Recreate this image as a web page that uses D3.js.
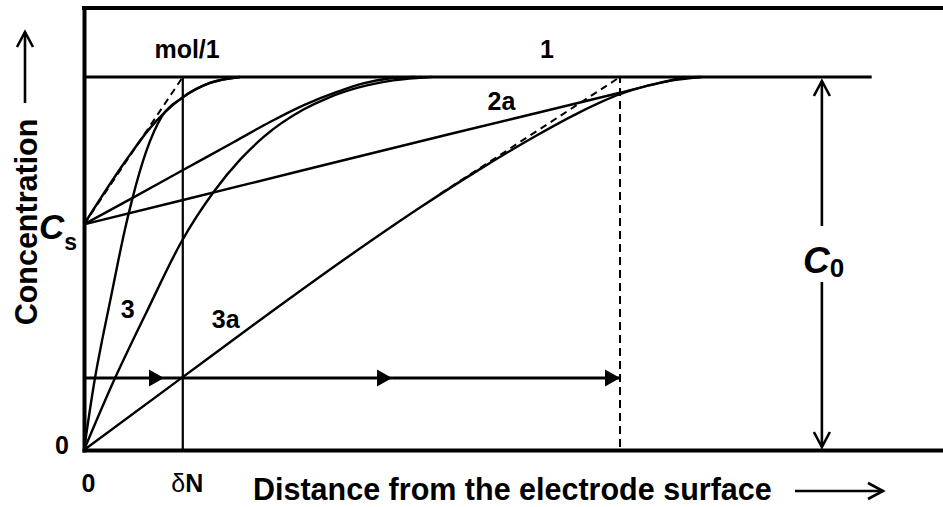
<!DOCTYPE html>
<html>
<head>
<meta charset="utf-8">
<script src="https://cdn.jsdelivr.net/npm/d3@7"></script>
<style>
  html, body { margin: 0; padding: 0; background: #fff; }
  svg { display: block; font-family: "Liberation Sans", Arial, Helvetica, sans-serif; font-weight: bold; }
</style>
</head>
<body>
<svg id="chart" width="943" height="507"></svg>
<script>
// concentration in % of C0, distance in arbitrary units
const C0 = 100;
const CS = 60.5;
const DELTA_N = 11.5;
const DELTA_3A = 62.4;
const FLOW_LEVEL = 19.3;
const flowStops = [0, 9.31, 35.86, 62.4];

// profiles starting at c = 0
const curve3 = [[0, 0], [1.28, 19.3], [2.21, 30.6], [3.14, 41.0], [3.96, 50.4], [4.77, 59.2],
  [5.59, 67.0], [7.22, 79.9], [9.08, 89.5], [11.41, 94.4], [14.67, 98.4], [18.16, 100]];
const curveMid = [[0, 0], [3.26, 17.5], [7.33, 37.2], [11.41, 56.1], [15.13, 69.3], [18.28, 78.1],
  [20.95, 84.0], [25.49, 91.2], [28.5, 94.5], [32.0, 97.2], [36.0, 99.1], [40.5, 100]];
const curve3a = [[0, 0], [11.41, 19.4], [20.95, 35.6], [30.62, 51.6], [39.12, 65.0], [46.1, 75.3],
  [52.74, 84.4], [57.74, 90.6], [62.4, 95.4], [65.5, 97.6], [68.5, 99.1], [72.0, 100]];

// profiles starting at c = Cs
const curve1 = [[0, CS], [5.0, 78.0], [7.68, 86.3], [9.43, 90.6], [11.41, 94.4], [14.67, 98.4], [18.16, 100]];
const curve2 = [[0, CS], [5.82, 67.8], [11.53, 75.07], [17.46, 82.57], [21.65, 87.94], [25.73, 92.6],
  [29.45, 96.0], [32.5, 98.3], [35.5, 99.6], [38.5, 100]];
const curve2a = [[0, CS], [11.53, 67.02], [25.15, 74.8], [42.61, 84.72], [57.74, 93.16], [62.4, 95.79],
  [67.05, 98.42], [69.38, 99.6], [71.71, 100]];

// dashed tangents
const tangents = [
  [[0, CS], [DELTA_N, C0]],
  [[41.44, 68.63], [DELTA_3A, C0]]
];

const notes = [
  { text: "mol/1", d: 12.0, c: 105.1 },
  { text: "1", d: 53.9, c: 105.1 },
  { text: "2a", d: 48.6, c: 91.2 },
  { text: "3", d: 5.1, c: 35.4 },
  { text: "3a", d: 16.5, c: 32.7 }
];

const svg = d3.select("#chart");
const x = d3.scaleLinear().domain([0, 100]).range([84, 943]);
const y = d3.scaleLinear().domain([0, 118.5]).range([450, 8]);

const defs = svg.append("defs");
defs.append("marker")
  .attr("id", "tri")
  .attr("viewBox", "-16 -10 17 20")
  .attr("markerUnits", "userSpaceOnUse")
  .attr("markerWidth", 17).attr("markerHeight", 20)
  .attr("refX", 0).attr("refY", 0)
  .attr("orient", "auto")
  .append("path").attr("d", "M-15,-8.5L0,0L-15,8.5Z").attr("fill", "#000");
defs.append("marker")
  .attr("id", "vee")
  .attr("viewBox", "-20 -11 23 22")
  .attr("markerUnits", "userSpaceOnUse")
  .attr("markerWidth", 23).attr("markerHeight", 22)
  .attr("refX", 0).attr("refY", 0)
  .attr("orient", "auto")
  .append("path").attr("d", "M-15,-8L0,0L-15,8")
  .attr("fill", "none").attr("stroke", "#000").attr("stroke-width", 2.6);

const line = d3.line().x(d => x(d[0])).y(d => y(d[1])).curve(d3.curveMonotoneX);
const straight = d3.line().x(d => x(d[0])).y(d => y(d[1]));

// C0 level
svg.append("line")
  .attr("x1", x(0)).attr("x2", x(91.7))
  .attr("y1", y(C0)).attr("y2", y(C0))
  .attr("stroke", "#000").attr("stroke-width", 3);

// delta lines
svg.append("line")
  .attr("x1", x(DELTA_N)).attr("x2", x(DELTA_N))
  .attr("y1", y(0)).attr("y2", y(C0))
  .attr("stroke", "#000").attr("stroke-width", 2.2);
svg.append("line")
  .attr("x1", x(DELTA_3A)).attr("x2", x(DELTA_3A))
  .attr("y1", y(0.8)).attr("y2", y(C0))
  .attr("stroke", "#000").attr("stroke-width", 2)
  .attr("stroke-dasharray", "8,5");

svg.selectAll(".tangent")
  .data(tangents)
  .enter().append("path")
  .attr("class", "tangent")
  .attr("d", straight)
  .attr("fill", "none").attr("stroke", "#000").attr("stroke-width", 2)
  .attr("stroke-dasharray", "7,5");

svg.selectAll(".profile")
  .data([curve3, curveMid, curve3a, curve1, curve2, curve2a])
  .enter().append("path")
  .attr("class", "profile")
  .attr("d", line)
  .attr("fill", "none").attr("stroke", "#000").attr("stroke-width", 2.4);

// flow arrows
svg.selectAll(".flow")
  .data(d3.pairs(flowStops))
  .enter().append("line")
  .attr("class", "flow")
  .attr("x1", d => x(d[0])).attr("x2", d => x(d[1]))
  .attr("y1", y(FLOW_LEVEL)).attr("y2", y(FLOW_LEVEL))
  .attr("stroke", "#000").attr("stroke-width", 3)
  .attr("marker-end", "url(#tri)");

// frame / axes
const xAxis = svg.append("g")
  .attr("transform", `translate(0,${y(0)})`)
  .call(d3.axisBottom(x).tickValues([0, DELTA_N]).tickSize(0).tickSizeOuter(0).tickFormat(""));
const yAxis = svg.append("g")
  .attr("transform", `translate(${x(0)},0)`)
  .call(d3.axisLeft(y).tickValues([0, CS]).tickSize(0).tickSizeOuter(0).tickFormat(""));
[xAxis, yAxis].forEach(g => {
  g.attr("font-family", null).attr("font-size", null);
  g.select(".domain").attr("stroke-width", 4).attr("stroke-linecap", "square");
});
svg.append("line")
  .attr("x1", x(0)).attr("x2", x(100))
  .attr("y1", y(118.5)).attr("y2", y(118.5))
  .attr("stroke", "#000").attr("stroke-width", 4).attr("stroke-linecap", "square");

// bottom tick labels
xAxis.selectAll(".tick").each(function(d) {
  const t = d3.select(this).select("text")
    .attr("y", 42).attr("dy", null).attr("dx", 4)
    .attr("font-size", 25).attr("fill", "#000");
  if (d === 0) t.text("0");
  else {
    t.append("tspan").attr("font-weight", "normal").text("δ");
    t.append("tspan").text("N");
  }
});

// left tick labels
yAxis.selectAll(".tick").each(function(d) {
  const t = d3.select(this).select("text").attr("fill", "#000").attr("dy", null);
  if (d === 0) {
    t.attr("x", -15).attr("y", 3).attr("font-size", 25).attr("text-anchor", "end").text("0");
  } else {
    t.attr("x", -45).attr("y", 14).attr("text-anchor", "start");
    t.append("tspan").attr("font-size", 35).attr("font-style", "italic").text("C");
    t.append("tspan").attr("font-size", 23).attr("dy", 11).text("s");
  }
});

// C0 double arrow
const c0x = x(85.9);
svg.append("line")
  .attr("x1", c0x).attr("x2", c0x)
  .attr("y1", 226).attr("y2", y(C0) + 4)
  .attr("stroke", "#000").attr("stroke-width", 2.6)
  .attr("marker-end", "url(#vee)");
svg.append("line")
  .attr("x1", c0x).attr("x2", c0x)
  .attr("y1", 282).attr("y2", y(0) - 3)
  .attr("stroke", "#000").attr("stroke-width", 2.6)
  .attr("marker-end", "url(#vee)");
const c0Label = svg.append("text").attr("x", 803).attr("y", 273);
c0Label.append("tspan").attr("font-size", 37).attr("font-style", "italic").text("C");
c0Label.append("tspan").attr("font-size", 26).attr("dy", 4).text("0");

// curve labels
svg.selectAll(".note")
  .data(notes)
  .enter().append("text")
  .attr("class", "note")
  .attr("x", d => x(d.d)).attr("y", d => y(d.c))
  .attr("text-anchor", "middle")
  .attr("font-size", 25)
  .text(d => d.text);

// axis titles
svg.append("text")
  .attr("transform", "translate(37,222) rotate(-90)")
  .attr("text-anchor", "middle")
  .attr("font-size", 30.5)
  .text("Concentration");
svg.append("line")
  .attr("x1", 25).attr("x2", 25).attr("y1", 103).attr("y2", 32)
  .attr("stroke", "#000").attr("stroke-width", 2.6)
  .attr("marker-end", "url(#vee)");

svg.append("text")
  .attr("x", 253).attr("y", 500)
  .attr("font-size", 30.5)
  .text("Distance from the electrode surface");
svg.append("line")
  .attr("x1", 795).attr("x2", 883).attr("y1", 491).attr("y2", 491)
  .attr("stroke", "#000").attr("stroke-width", 2.6)
  .attr("marker-end", "url(#vee)");
</script>
</body>
</html>
